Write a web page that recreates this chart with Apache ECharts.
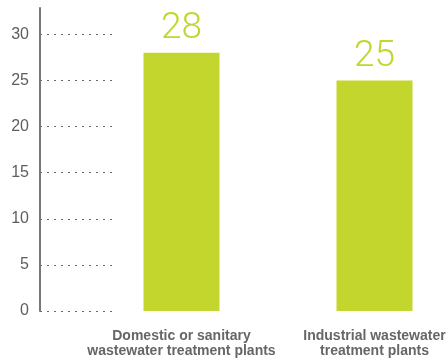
<!DOCTYPE html>
<html>
<head>
<meta charset="utf-8">
<script src="https://cdn.jsdelivr.net/npm/echarts@6/dist/echarts.min.js"></script>
<style>
  html, body { margin: 0; padding: 0; background: #fff; }
  #chart { width: 446px; height: 362px; }
</style>
</head>
<body>
<div id="chart"></div>
<script>
// Plant types and their counts
const categories = [
  'Domestic or sanitary\nwastewater treatment plants',
  'Industrial wastewater\ntreatment plants'
];
const values = [28, 25];
const tickInterval = 5;
const axisMax = 32.85;

const green = '#c3d62e';
const grey = '#666666';

const chart = echarts.init(document.getElementById('chart'));
chart.setOption({
  animation: false,
  grid: [
    // bar area
    { left: 85, width: 386, top: 8, bottom: 51, outerBoundsMode: 'none' },
    // narrow strip holding the value axis and its dotted guides
    { left: 40, width: 76, top: 8, bottom: 51, outerBoundsMode: 'none' }
  ],
  xAxis: [
    {
      gridIndex: 0,
      type: 'category',
      data: categories,
      axisLine: { show: false },
      axisTick: { show: false },
      axisLabel: {
        interval: 0,
        hideOverlap: false,
        margin: 18,
        color: grey,
        fontFamily: 'Liberation Sans',
        fontWeight: 'bold',
        fontSize: 14,
        lineHeight: 15
      }
    },
    { gridIndex: 1, type: 'value', show: false, min: 0, max: 1 }
  ],
  yAxis: [
    { gridIndex: 0, type: 'value', min: 0, max: axisMax, show: false },
    {
      gridIndex: 1,
      type: 'value',
      min: 0,
      max: axisMax,
      interval: tickInterval,
      axisLine: { show: true, lineStyle: { color: '#777777', width: 2 } },
      axisTick: { show: false },
      axisLabel: {
        showMaxLabel: false,
        margin: 11,
        color: '#5e5e5e',
        fontFamily: 'Liberation Sans',
        fontSize: 16
      },
      splitLine: {
        show: true,
        showMaxLine: false,
        lineStyle: { color: '#666666', width: 1.2, type: [2, 5] }
      }
    }
  ],
  series: [
    {
      type: 'bar',
      xAxisIndex: 0,
      yAxisIndex: 0,
      data: values,
      barWidth: 76,
      itemStyle: { color: green },
      label: {
        show: true,
        position: 'top',
        distance: 5,
        color: green,
        fontFamily: 'Roboto',
        fontWeight: 300,
        fontSize: 37
      }
    }
  ]
});
</script>
</body>
</html>
